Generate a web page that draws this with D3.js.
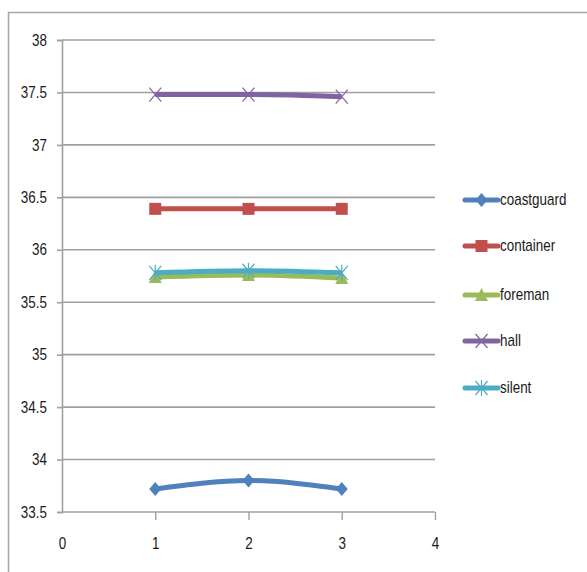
<!DOCTYPE html>
<html>
<head>
<meta charset="utf-8">
<script src="https://cdn.jsdelivr.net/npm/d3@7"></script>
<style>
  html, body { margin: 0; padding: 0; background: #fff; }
  svg { display: block; font-family: "Liberation Sans", Arial, sans-serif; }
</style>
</head>
<body>
<svg id="chart" width="587" height="572"></svg>
<script>
// Series data: x positions 1..3
const xValues = [1, 2, 3];
const seriesNames = ["coastguard", "container", "foreman", "hall", "silent"];
const coastguard = [33.72, 33.80, 33.72];
const container = [36.39, 36.39, 36.39];
const foreman = [35.74, 35.76, 35.73];
const hall = [37.48, 37.48, 37.46];
const silent = [35.78, 35.80, 35.78];
const seriesColors = ["#4F81BD", "#C0504D", "#9BBB59", "#8064A2", "#4BACC6"];
const markerTypes = ["diamond", "square", "triangle", "x", "star"];
const yTicks = [33.5, 34, 34.5, 35, 35.5, 36, 36.5, 37, 37.5, 38];
const xTicks = [0, 1, 2, 3, 4];

const seriesValues = [coastguard, container, foreman, hall, silent];
const textScale = 0.84;   // narrow the label glyphs horizontally
const textColor = "#1a1a1a";

const svg = d3.select("#chart");

// chart border
svg.append("rect")
  .attr("x", 8.5).attr("y", 12.5)
  .attr("width", 600).attr("height", 600)
  .attr("fill", "none").attr("stroke", "#a6a6a6").attr("stroke-width", 1.5);

const x = d3.scaleLinear().domain([0, 4]).range([62, 435]);
const y = d3.scaleLinear().domain([33.5, 38]).range([512, 40]);

// horizontal gridlines
svg.append("g").selectAll("line").data(yTicks).join("line")
  .attr("x1", x(0)).attr("x2", x(4))
  .attr("y1", d => y(d)).attr("y2", d => y(d))
  .attr("stroke", "#a0a0a0").attr("stroke-width", 1.6);

function narrowText(sel) {
  sel.each(function () {
    const t = d3.select(this);
    const x0 = +t.attr("x") || 0;
    t.attr("x", x0 / textScale).attr("transform", `scale(${textScale},1)`);
  });
}

// y axis
const yAxis = svg.append("g")
  .attr("transform", `translate(${x(0)},0)`)
  .call(d3.axisLeft(y).tickValues(yTicks).tickSize(5).tickPadding(10)
    .tickFormat(d => String(d)));
yAxis.select(".domain").attr("stroke", "#a0a0a0").attr("stroke-width", 1.6);
yAxis.selectAll(".tick line").attr("stroke", "#a0a0a0").attr("stroke-width", 1.6);
yAxis.selectAll(".tick text").attr("font-size", 16).attr("fill", textColor)
  .attr("font-family", "'Liberation Sans', Arial, sans-serif").call(narrowText);

// x axis (drawn at bottom of plot)
const xAxis = svg.append("g")
  .attr("transform", `translate(0,${y(33.5)})`)
  .call(d3.axisBottom(x).tickValues(xTicks).tickSize(8).tickPadding(18)
    .tickFormat(d => String(d)));
xAxis.select(".domain").remove();
xAxis.selectAll(".tick line").attr("stroke", "#a0a0a0").attr("stroke-width", 1.4)
  .filter(d => d === 0).remove();
xAxis.selectAll(".tick text").attr("font-size", 16).attr("fill", textColor)
  .attr("font-family", "'Liberation Sans', Arial, sans-serif").call(narrowText);

// marker shapes
function drawMarker(g, type, color, cx, cy) {
  if (type === "diamond") {
    g.append("path").attr("d", `M${cx},${cy-7}L${cx+6},${cy}L${cx},${cy+7}L${cx-6},${cy}Z`).attr("fill", color);
  } else if (type === "square") {
    g.append("rect").attr("x", cx-6).attr("y", cy-6).attr("width", 12).attr("height", 12).attr("fill", color);
  } else if (type === "triangle") {
    g.append("path").attr("d", `M${cx},${cy-7}L${cx+6.5},${cy+6}L${cx-6.5},${cy+6}Z`).attr("fill", color);
  } else if (type === "x") {
    g.append("path").attr("d", `M${cx-6},${cy-7}L${cx+6},${cy+7}M${cx-6},${cy+7}L${cx+6},${cy-7}`)
      .attr("stroke", color).attr("stroke-width", 1.2).attr("fill", "none");
  } else if (type === "star") {
    g.append("path").attr("d", `M${cx-6},${cy-7}L${cx+6},${cy+7}M${cx-6},${cy+7}L${cx+6},${cy-7}M${cx},${cy-8}L${cx},${cy+8}`)
      .attr("stroke", color).attr("stroke-width", 1.2).attr("fill", "none");
  }
}

const line = d3.line().x((d, i) => x(xValues[i])).y(d => y(d)).curve(d3.curveMonotoneX);

seriesValues.forEach((vals, si) => {
  const g = svg.append("g");
  g.append("path").datum(vals).attr("d", line)
    .attr("fill", "none").attr("stroke", seriesColors[si]).attr("stroke-width", 5)
    .attr("stroke-linejoin", "round");
  vals.forEach((v, i) => drawMarker(g, markerTypes[si], seriesColors[si], x(xValues[i]), y(v)));
});

// legend
const legendY = [200, 246, 295, 341, 388];
seriesNames.forEach((name, si) => {
  const g = svg.append("g");
  const ly = legendY[si];
  g.append("line").attr("x1", 465).attr("x2", 498).attr("y1", ly).attr("y2", ly)
    .attr("stroke", seriesColors[si]).attr("stroke-width", 5).attr("stroke-linecap", "round");
  drawMarker(g, markerTypes[si], seriesColors[si], 481.5, ly);
  g.append("text").attr("x", 500 / textScale).attr("y", ly + 5)
    .attr("transform", `scale(${textScale},1)`).text(name)
    .attr("font-size", 16).attr("fill", textColor)
    .attr("font-family", "'Liberation Sans', Arial, sans-serif");
});
</script>
</body>
</html>
